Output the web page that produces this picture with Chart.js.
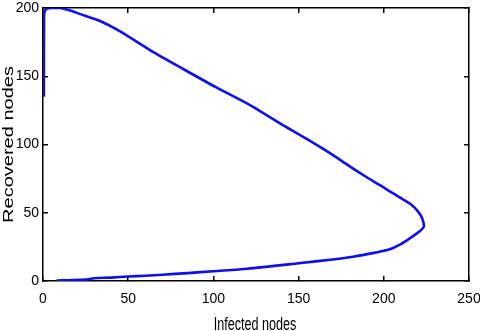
<!DOCTYPE html>
<html>
<head>
<meta charset="utf-8">
<script src="https://cdn.jsdelivr.net/npm/chart.js@4.4.1/dist/chart.umd.min.js"></script>
<style>
  html, body { margin: 0; padding: 0; background: #fff; overflow: hidden; }
  #wrap { width: 480px; height: 331px; position: relative; overflow: hidden; }
  canvas { display: block; }
</style>
</head>
<body>
<div id="wrap"><canvas id="chart"></canvas></div>
<script>
// Phase trajectory
const infected = [8, 15, 25, 30, 40, 50, 60, 70, 85, 100, 120, 150, 170, 182, 195, 203, 210, 215, 219, 222, 223.5,
  222.5, 220, 216, 211, 205, 198, 190, 180, 168, 155, 141, 122, 102, 82, 63, 45, 33.5, 22, 15, 10, 5, 2.5, 1, 0.6, 0.5];
const recovered = [0.4, 0.6, 1, 2, 2.5, 3.3, 3.8, 4.6, 5.8, 7.2, 9, 13, 15.8, 17.8, 20.8, 23, 27, 31, 34.5, 37.5, 40,
  46, 51, 56, 60, 64.5, 70, 76, 84, 94, 104, 114, 128.5, 141.6, 155.5, 169, 183, 190.5, 195.5, 198.5, 200, 200, 199.5, 197.5, 192, 135];

const xTicks = [0, 50, 100, 150, 200, 250];
const yTicks = [0, 50, 100, 150, 200];
const xTitle = 'Infected nodes';
const yTitle = 'Recovered nodes';

const TICK_FONT = { family: '"Liberation Sans Narrow", "Liberation Sans", Arial, sans-serif', size: 14 };

// inward tick marks + black axis line, shared by all four sides
const boxGrid = { display: true, drawOnChartArea: false, drawTicks: true, tickLength: -5, color: '#000', lineWidth: 1.5 };
const boxBorder = { display: true, color: '#000', width: 1.5 };

// squeezed axis titles (the original picture is compressed sideways)
const axisTitles = {
  id: 'axisTitles',
  afterDraw(chart) {
    const { ctx } = chart;
    ctx.save();
    ctx.fillStyle = '#000';
    ctx.textAlign = 'center';
    ctx.textBaseline = 'alphabetic';

    ctx.save();
    ctx.translate(255, 330);
    ctx.scale(0.7, 1);
    ctx.font = '18px "Liberation Sans", Arial, sans-serif';
    ctx.fillText(xTitle, 0, 0);
    ctx.restore();

    ctx.save();
    ctx.translate(13, 144.5);
    ctx.rotate(-Math.PI / 2);
    ctx.scale(1, 0.7);
    ctx.font = '20px "Liberation Sans", Arial, sans-serif';
    ctx.fillText(yTitle, 0, 0);
    ctx.restore();

    ctx.restore();
  },
};

const points = infected.map((x, i) => ({ x, y: recovered[i] }));

new Chart(document.getElementById('chart'), {
  type: 'scatter',
  data: {
    datasets: [
      {
        data: points,
        showLine: true,
        borderColor: 'rgb(15, 15, 235)',
        borderWidth: 2.6,
        pointRadius: 0,
        tension: 0.25,
        fill: false,
      },
    ],
  },
  options: {
    responsive: true,
    maintainAspectRatio: false,
    animation: false,
    layout: { padding: { left: 0, right: 0, top: 8, bottom: 0 } },
    plugins: {
      legend: { display: false },
      tooltip: { enabled: false },
    },
    scales: {
      x: {
        type: 'linear',
        position: 'bottom',
        min: xTicks[0],
        max: xTicks[xTicks.length - 1],
        afterFit: (s) => { s.height = 50; s.paddingRight = 11; s.paddingLeft = 0; },
        grid: boxGrid,
        border: boxBorder,
        ticks: { stepSize: xTicks[1] - xTicks[0], color: '#000', font: TICK_FONT, padding: 15, maxRotation: 0 },
      },
      x2: {
        type: 'linear',
        position: 'top',
        min: xTicks[0],
        max: xTicks[xTicks.length - 1],
        afterFit: (s) => { s.height = 0; s.paddingLeft = 0; s.paddingRight = 0; },
        grid: boxGrid,
        border: boxBorder,
        ticks: { stepSize: xTicks[1] - xTicks[0], display: false },
      },
      y: {
        type: 'linear',
        position: 'left',
        min: yTicks[0],
        max: yTicks[yTicks.length - 1],
        afterFit: (s) => { s.width = 43; s.paddingTop = 0; s.paddingBottom = 0; },
        grid: boxGrid,
        border: boxBorder,
        ticks: { stepSize: yTicks[1] - yTicks[0], color: '#000', font: TICK_FONT, padding: 9 },
      },
      y2: {
        type: 'linear',
        position: 'right',
        min: yTicks[0],
        max: yTicks[yTicks.length - 1],
        afterFit: (s) => { s.width = 0; s.paddingTop = 0; s.paddingBottom = 0; },
        grid: boxGrid,
        border: boxBorder,
        ticks: { stepSize: yTicks[1] - yTicks[0], display: false },
      },
    },
  },
  plugins: [axisTitles],
});
</script>
</body>
</html>
